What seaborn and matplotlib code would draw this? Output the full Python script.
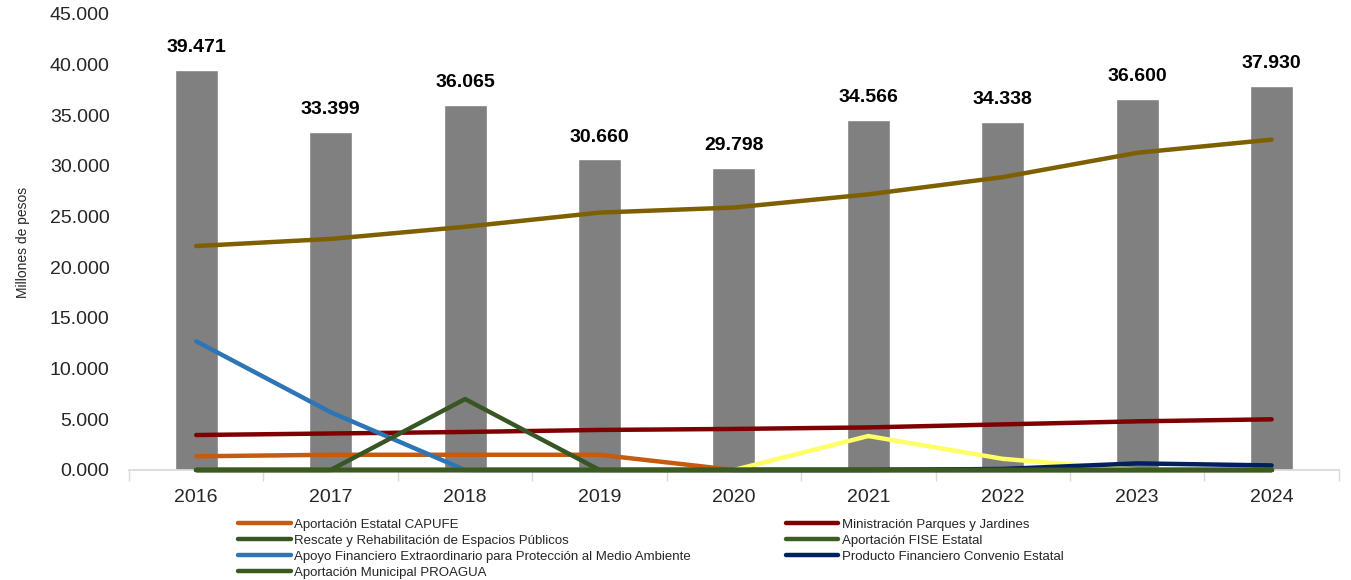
import numpy as np
import pandas as pd
import matplotlib.pyplot as plt
import seaborn as sns
from matplotlib.ticker import FuncFormatter, FixedLocator

years = ["2016", "2017", "2018", "2019", "2020", "2021", "2022", "2023", "2024"]
total = [39.471, 33.399, 36.065, 30.660, 29.798, 34.566, 34.338, 36.600, 37.930]

# line series (millones de pesos)
gold      = [22.1, 22.8, 24.0, 25.4, 25.9, 27.2, 28.9, 31.3, 32.6]
parques   = [3.45, 3.6, 3.75, 3.95, 4.05, 4.2, 4.5, 4.8, 5.0]
capufe    = [1.35, 1.5, 1.5, 1.5, 0.0, 0.0, 0.0, 0.0, 0.0]
apoyo     = [12.7, 5.7, 0.0, 0.0, 0.0, 0.0, 0.0, 0.0, 0.0]
rescate   = [0.0, 0.0, 7.0, 0.0, 0.0, 0.0, 0.0, 0.0, 0.0]
fise      = [0.0, 0.0, 0.0, 0.0, 0.0, 0.0, 0.0, 0.0, 0.0]
yellow    = [0.0, 0.0, 0.0, 0.0, 0.0, 3.35, 1.1, 0.0, 0.0]
producto  = [0.0, 0.0, 0.0, 0.0, 0.0, 0.0, 0.1, 0.65, 0.45]
proagua   = [0.0, 0.0, 0.0, 0.0, 0.0, 0.0, 0.0, 0.0, 0.0]

sns.set_theme(style="white")
plt.rcParams["font.family"] = ["Liberation Sans", "DejaVu Sans"]

fig = plt.figure(figsize=(13.51, 5.80), dpi=100)
ax = fig.add_axes([0.0955, 0.1897, 0.8955, 0.7862])

df = pd.DataFrame({"year": years, "total": total})
sns.barplot(data=df, x="year", y="total", color="#808080", width=0.32,
            saturation=1, ax=ax)

for i, v in enumerate(total):
    ax.text(i, v + 1.35, f"{v:.3f}", ha="center", va="bottom",
            fontsize=14, fontweight="bold", color="#000000")

pos = np.arange(len(years))
series = [
    ("_gold", gold, "#7F6000"),
    ("Ministración Parques y Jardines", parques, "#7F0000"),
    ("Aportación Estatal CAPUFE", capufe, "#C55A11"),
    ("Apoyo Financiero Extraordinario para Protección al Medio Ambiente", apoyo, "#2E75B6"),
    ("_yellow", yellow, "#FFFF66"),
    ("Producto Financiero Convenio Estatal", producto, "#002060"),
    ("Aportación FISE Estatal", fise, "#3B5E22"),
    ("Rescate y Rehabilitación de Espacios Públicos", rescate, "#375623"),
    ("Aportación Municipal PROAGUA", proagua, "#3A5A20"),
]
handles = {}
for k, (name, vals, col) in enumerate(series):
    sns.lineplot(x=pos, y=vals, color=col, linewidth=3.2, ax=ax,
                 solid_capstyle="round", clip_on=False, zorder=4 + k * 0.1)
    handles[name] = plt.Line2D([], [], color=col, linewidth=3.2)

ax.set_ylim(0, 45)
ax.set_xlim(-0.5, len(years) - 0.5)
ax.yaxis.set_major_locator(FixedLocator(np.arange(0, 46, 5)))
ax.yaxis.set_major_formatter(FuncFormatter(lambda v, p: f"{v:.3f}"))
ax.set_xlabel("")
ax.set_ylabel("Millones de pesos", fontsize=10, labelpad=14)
ax.tick_params(axis="y", labelsize=14, length=0, pad=14)
ax.tick_params(axis="x", which="major", labelsize=14, length=0, pad=14)
ax.set_xticks(np.arange(-0.5, len(years), 1), minor=True)
ax.tick_params(axis="x", which="minor", length=8, color="#D9D9D9", width=1,
               bottom=True)
for s in ["top", "right", "left"]:
    ax.spines[s].set_visible(False)
ax.spines["bottom"].set_color("#D9D9D9")
ax.spines["bottom"].set_zorder(1)
ax.grid(False)

order = ["Aportación Estatal CAPUFE",
         "Rescate y Rehabilitación de Espacios Públicos",
         "Apoyo Financiero Extraordinario para Protección al Medio Ambiente",
         "Aportación Municipal PROAGUA",
         "Ministración Parques y Jardines",
         "Aportación FISE Estatal",
         "Producto Financiero Convenio Estatal"]
fig.legend([handles[n] for n in order], order, ncol=2, loc="upper left",
           bbox_to_anchor=(0.176, 0.106), frameon=False,
           prop={"family": ["Liberation Sans Narrow", "Liberation Sans"], "size": 9.5},
           handlelength=4.0, handletextpad=0.25, labelspacing=0.28,
           columnspacing=7.2, borderaxespad=0, borderpad=0)

plt.savefig("out.png", dpi=100)
